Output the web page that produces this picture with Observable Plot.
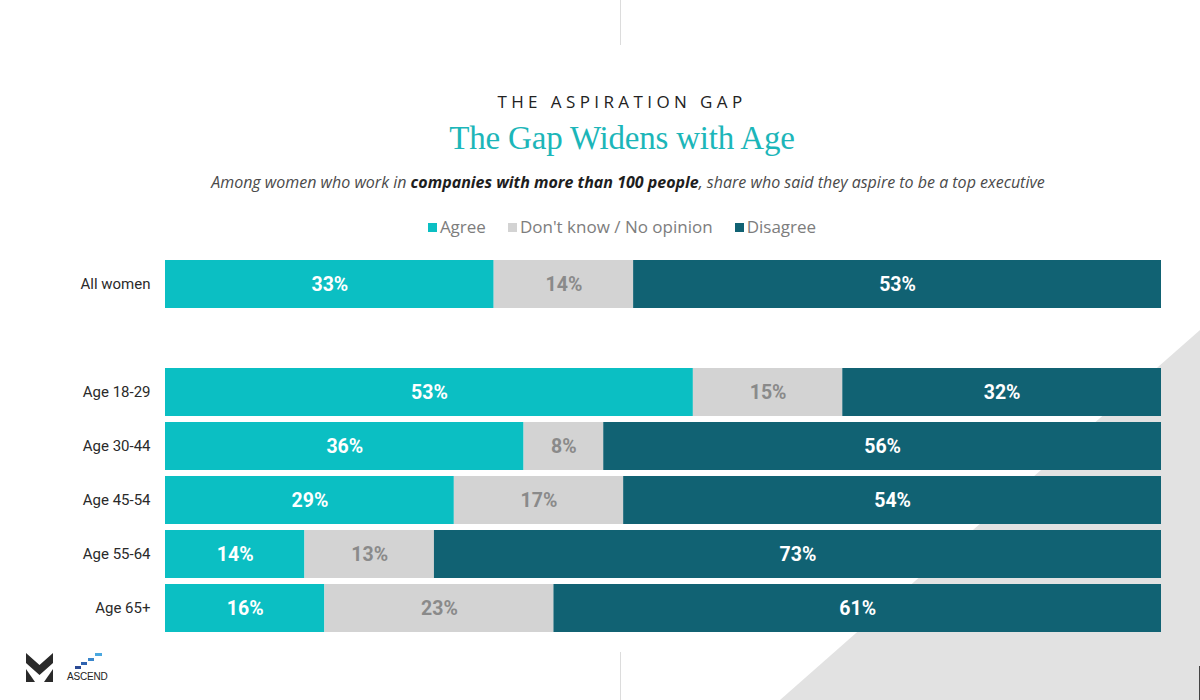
<!DOCTYPE html>
<html>
<head>
<meta charset="utf-8">
<script src="https://cdn.jsdelivr.net/npm/d3@7"></script>
<script src="https://cdn.jsdelivr.net/npm/@observablehq/plot@0.6"></script>
<style>
  html, body { margin: 0; padding: 0; background: #fff; }
  #page { position: relative; width: 1200px; height: 700px; overflow: hidden; background: #fff; }
  #deco { position: absolute; left: 0; top: 0; }
  #chart { position: absolute; left: 0; top: 0; width: 1200px; height: 700px; }
  #chart svg { position: absolute; left: 0; top: 0; max-width: none !important; width: 1200px; height: 700px; }
  .centered { position: absolute; left: 22px; width: 1200px; text-align: center; white-space: nowrap; }
  #kicker { top: 90px; font-family: "Open Sans", sans-serif; font-size: 17px; letter-spacing: 4.4px; color: #222; }
  #title { top: 120px; font-family: "Liberation Serif", serif; font-size: 33px; color: #1cb6b9; letter-spacing: -0.2px; }
  #subtitle { top: 171px; left: 28px; font-family: "Open Sans", sans-serif; font-style: italic; font-size: 16px; color: #4a4a4a; }
  #subtitle b { color: #1e1e1e; }
  #legend { top: 215px; font-family: "Open Sans", sans-serif; font-size: 17px; color: #7d7d7d; }
  #legend span.item { margin: 0 11px; }
  #legend span.sw { display: inline-block; width: 9px; height: 9px; margin-right: 3px; vertical-align: 1px; }
  #ascend { position: absolute; left: 67px; top: 671px; font-family: "Liberation Sans", sans-serif; font-size: 10px; color: #222; letter-spacing: -0.2px; }
</style>
</head>
<body>
<div id="page">
  <svg id="deco" width="1200" height="700">
    <polygon points="1200,330 780,700 1200,700" fill="#e2e2e2"></polygon>
    <line x1="620.5" y1="0" x2="620.5" y2="45" stroke="#dcdcdc" stroke-width="1"></line>
    <line x1="620.5" y1="652" x2="620.5" y2="700" stroke="#dcdcdc" stroke-width="1"></line>
    <line x1="1199.5" y1="666" x2="1199.5" y2="700" stroke="#444" stroke-width="1"></line>
    <polygon points="26,653 39.5,665 53,653 53,663 39.5,675 26,663" fill="#2a2a2a"></polygon>
    <polygon points="26,669 35,682 26,682" fill="#2a2a2a"></polygon>
    <polygon points="53,669 44,682 53,682" fill="#2a2a2a"></polygon>
    <rect x="75" y="666" width="6" height="3" fill="#2b4a94"></rect>
    <rect x="81" y="662" width="6" height="3" fill="#2f63b0"></rect>
    <rect x="88" y="658" width="6" height="3" fill="#3a86cc"></rect>
    <rect x="95" y="653" width="7" height="3" fill="#4aa8e0"></rect>
  </svg>
  <div id="chart"></div>
  <div id="kicker" class="centered">THE ASPIRATION GAP</div>
  <div id="title" class="centered">The Gap Widens with Age</div>
  <div id="subtitle" class="centered">Among women who work in <b>companies with more than 100 people</b>, share who said they aspire to be a top executive</div>
  <div id="legend" class="centered"></div>
  <div id="ascend">ASCEND</div>
</div>
<script>
const groups = ["All women", "Age 18-29", "Age 30-44", "Age 45-54", "Age 55-64", "Age 65+"];
const responses = ["Agree", "Don't know / No opinion", "Disagree"];
const agree = [33, 53, 36, 29, 14, 16];
const dontKnow = [14, 15, 8, 17, 13, 23];
const disagree = [53, 32, 56, 54, 73, 61];
const colors = ["#0bbfc3", "#d3d3d3", "#116273"];

const yDomain = [groups[0], " ", ...groups.slice(1)];

const series = [agree, dontKnow, disagree];
const rows = [];
groups.forEach((g, i) => {
  let acc = 0;
  responses.forEach((r, j) => {
    const v = series[j][i];
    rows.push({group: g, response: r, value: v, x1: acc, x2: acc + v});
    acc += v;
  });
});

const darkText = rows.filter(d => d.response !== responses[1]);
const grayText = rows.filter(d => d.response === responses[1]);

const plot = Plot.plot({
  width: 1200,
  height: 700,
  marginTop: 255.85,
  marginBottom: 63.85,
  marginLeft: 165,
  marginRight: 39,
  x: {domain: [0, 100], axis: null},
  y: {domain: yDomain, paddingInner: 0.1165, paddingOuter: 0.058, label: null, axis: null},
  color: {domain: responses, range: colors},
  style: {fontFamily: "Roboto, sans-serif", fontSize: "15px", background: "transparent", color: "#2a2a2a"},
  marks: [
    Plot.axisY({tickSize: 0, tickPadding: 15, fontSize: 15, label: null, fill: "#2a2a2a"}),
    Plot.barX(rows, {x1: "x1", x2: "x2", y: "group", fill: "response"}),
    Plot.text(darkText, {x: d => (d.x1 + d.x2) / 2, y: "group", text: d => d.value + "%", fill: "#ffffff", fontWeight: 700, fontSize: 19.5}),
    Plot.text(grayText, {x: d => (d.x1 + d.x2) / 2, y: "group", text: d => d.value + "%", fill: "#8a8a8a", fontWeight: 700, fontSize: 19.5})
  ]
});
document.getElementById("chart").appendChild(plot);

const legend = document.getElementById("legend");
responses.forEach((r, i) => {
  const item = document.createElement("span");
  item.className = "item";
  const sw = document.createElement("span");
  sw.className = "sw";
  sw.style.background = colors[i];
  item.appendChild(sw);
  item.appendChild(document.createTextNode(r));
  legend.appendChild(item);
});
</script>
</body>
</html>
